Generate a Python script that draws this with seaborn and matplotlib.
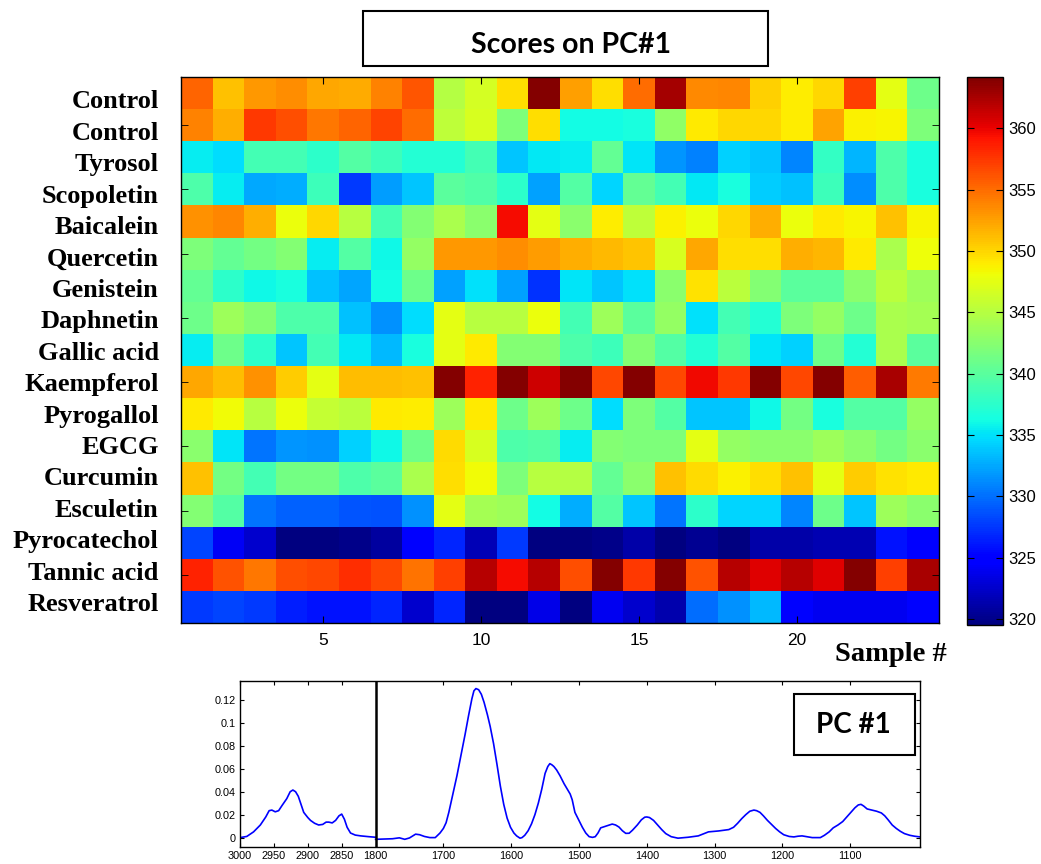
import numpy as np
import pandas as pd
import matplotlib
matplotlib.use("Agg")
import matplotlib.pyplot as plt
from matplotlib.patches import Rectangle
import seaborn as sns

# ---------------- data ----------------
compounds = ["Control", "Control", "Tyrosol", "Scopoletin", "Baicalein", "Quercetin",
             "Genistein", "Daphnetin", "Gallic acid", "Kaempferol", "Pyrogallol", "EGCG",
             "Curcumin", "Esculetin", "Pyrocatechol", "Tannic acid", "Resveratrol"]
samples = list(range(1, 25))

control1 = [355.4, 351.0, 352.9, 353.4, 352.3, 352.0, 354.0, 356.0, 344.9, 346.7, 349.7, 364.0, 352.6, 349.7, 355.0, 362.8, 353.6, 353.8, 350.3, 349.0, 350.0, 357.1, 347.5, 341.0]
control2 = [354.0, 351.9, 357.5, 356.4, 354.5, 355.4, 356.9, 355.1, 345.5, 346.8, 341.9, 349.7, 336.2, 336.2, 336.5, 343.0, 349.1, 350.0, 350.0, 349.0, 352.5, 348.8, 348.5, 342.0]
tyrosol = [335.5, 334.7, 338.8, 338.8, 337.5, 339.7, 338.4, 337.1, 337.0, 338.8, 333.8, 335.3, 335.5, 340.5, 335.1, 331.6, 330.8, 334.2, 333.8, 331.0, 338.0, 333.0, 339.3, 336.6]
scopoletin = [339.3, 335.5, 332.5, 332.7, 338.4, 327.7, 331.9, 333.8, 340.1, 339.5, 337.5, 332.1, 339.7, 334.5, 340.5, 338.8, 335.3, 336.6, 334.0, 333.6, 338.4, 331.2, 339.3, 336.6]
baicalein = [353.2, 353.8, 351.9, 347.9, 350.0, 345.0, 338.8, 342.3, 344.4, 342.7, 359.5, 347.5, 342.7, 349.0, 345.5, 348.8, 347.9, 350.0, 351.9, 347.9, 349.1, 348.5, 351.0, 348.5]
quercetin = [342.0, 340.5, 341.5, 342.3, 335.5, 339.7, 336.0, 343.2, 353.0, 353.0, 353.4, 352.7, 351.9, 351.4, 350.8, 346.8, 352.3, 349.7, 349.7, 351.9, 351.6, 349.1, 344.4, 348.1]
genistein = [340.5, 337.5, 336.0, 336.6, 333.6, 332.3, 336.2, 341.0, 332.1, 334.9, 332.1, 327.3, 335.1, 333.8, 334.9, 342.7, 349.4, 345.3, 342.3, 340.1, 340.1, 342.7, 345.3, 343.6]
daphnetin = [341.0, 343.6, 342.3, 339.3, 339.3, 333.6, 331.4, 334.7, 347.6, 345.0, 345.0, 347.9, 338.8, 343.6, 340.1, 343.2, 334.9, 338.8, 337.0, 342.0, 343.2, 341.0, 344.4, 344.0]
gallic_acid = [335.5, 341.0, 337.5, 333.8, 338.8, 335.3, 333.2, 336.6, 347.6, 349.1, 342.3, 342.3, 339.3, 338.4, 342.3, 339.7, 337.0, 339.7, 335.1, 334.2, 341.0, 337.0, 344.4, 340.1]
kaempferol = [352.3, 351.2, 353.2, 350.5, 347.6, 351.2, 351.2, 351.0, 364.0, 358.5, 364.0, 361.1, 364.0, 356.7, 364.0, 356.7, 359.8, 357.5, 364.0, 356.7, 364.0, 355.8, 362.6, 354.3]
pyrogallol = [349.1, 348.3, 345.0, 347.9, 345.8, 345.3, 349.1, 349.0, 343.6, 349.1, 341.0, 343.6, 341.0, 334.7, 342.0, 339.7, 333.8, 333.8, 336.0, 341.5, 336.6, 339.7, 339.7, 343.2]
egcg = [342.7, 335.1, 330.3, 331.6, 331.4, 334.2, 336.0, 341.0, 349.8, 346.8, 339.3, 339.7, 335.5, 342.3, 342.0, 342.0, 347.5, 343.2, 342.7, 342.7, 343.6, 342.7, 341.5, 342.7]
curcumin = [351.0, 341.5, 338.8, 341.5, 341.5, 339.3, 340.1, 344.4, 349.7, 348.3, 342.0, 345.0, 344.9, 340.5, 342.7, 351.0, 349.8, 348.8, 349.7, 351.0, 347.5, 350.5, 349.4, 349.1]
esculetin = [342.3, 339.7, 330.3, 329.4, 329.4, 328.8, 328.6, 331.4, 347.5, 344.0, 343.6, 336.2, 332.7, 339.7, 333.8, 330.3, 337.5, 334.5, 334.5, 331.0, 341.0, 333.8, 343.6, 342.7]
pyrocatechol = [328.1, 324.2, 322.6, 319.5, 319.5, 320.0, 320.8, 324.4, 326.8, 321.7, 327.7, 319.5, 319.5, 319.9, 321.2, 319.5, 320.3, 319.5, 321.2, 321.2, 321.5, 321.5, 325.9, 324.8]
tannic_acid = [358.5, 356.2, 354.5, 356.4, 356.7, 358.0, 356.7, 354.7, 357.1, 362.0, 359.5, 362.0, 356.4, 364.0, 357.5, 364.0, 356.2, 362.0, 360.5, 362.0, 360.5, 364.0, 357.1, 362.6]
resveratrol = [327.7, 328.1, 327.7, 326.4, 325.9, 325.9, 326.8, 322.6, 326.8, 319.5, 319.5, 323.6, 319.5, 324.0, 322.6, 321.3, 329.9, 331.4, 333.2, 325.1, 324.0, 324.0, 324.0, 325.1]

cbar_ticks = [320, 325, 330, 335, 340, 345, 350, 355, 360]
x_tick_samples = [5, 10, 15, 20]

# PC#1 loading spectrum, C-H stretch region (3000-2800 cm-1)
ch_wn = [3000, 2990, 2980, 2970, 2962, 2957, 2953, 2948, 2943, 2938, 2931, 2926, 2922, 2918,
         2914, 2910, 2906, 2900, 2896, 2890, 2884, 2878, 2873, 2869, 2864, 2859, 2854, 2850,
         2846, 2842, 2837, 2830, 2822, 2810, 2800]
ch_val = [0.000, 0.001, 0.005, 0.011, 0.018, 0.0235, 0.024, 0.0225, 0.0235, 0.028, 0.034, 0.040, 0.0415, 0.040,
          0.036, 0.029, 0.022, 0.0175, 0.015, 0.0125, 0.011, 0.0115, 0.0135, 0.0135, 0.0128, 0.015, 0.019, 0.0205,
          0.016, 0.009, 0.004, 0.0022, 0.0015, 0.0008, 0.0003]
# fingerprint region (1800-997 cm-1)
fp_wn = [1800, 1785, 1775, 1765, 1757, 1750, 1741, 1735, 1728, 1720, 1712, 1705, 1700, 1696,
         1692, 1686, 1680, 1674, 1668, 1663, 1658, 1655, 1652, 1648, 1644, 1640, 1635, 1631,
         1626, 1621, 1616, 1611, 1606, 1601, 1596, 1592, 1587, 1584, 1580, 1575, 1570, 1565,
         1560, 1555, 1550, 1546, 1543, 1540, 1537, 1533, 1528, 1522, 1517, 1513, 1510, 1506,
         1500, 1495, 1490, 1485, 1480, 1476, 1472, 1468, 1463, 1458, 1451, 1446, 1441, 1436,
         1431, 1426, 1421, 1414, 1408, 1403, 1400, 1396, 1390, 1384, 1378, 1372, 1364, 1354,
         1339, 1324, 1309, 1294, 1279, 1272, 1266, 1260, 1254, 1248, 1242, 1238, 1233, 1228,
         1222, 1216, 1210, 1204, 1198, 1190, 1183, 1177, 1171, 1164, 1156, 1144, 1138, 1131,
         1125, 1118, 1111, 1105, 1099, 1093, 1088, 1084, 1080, 1075, 1068, 1061, 1054, 1049,
         1044, 1038, 1032, 1026, 1020, 1012, 1005, 997]
fp_val = [-0.0015, -0.0012, -0.001, -0.0002, -0.0015, -0.0003, 0.003, 0.0025, 0.001, 0.000, 0.000, 0.004, 0.008, 0.013,
          0.022, 0.038, 0.054, 0.072, 0.090, 0.106, 0.121, 0.128, 0.130, 0.129, 0.125, 0.118, 0.107, 0.097,
          0.082, 0.064, 0.045, 0.029, 0.017, 0.009, 0.004, 0.0015, -0.0005, 0.000, 0.002, 0.006, 0.012, 0.020,
          0.030, 0.042, 0.056, 0.062, 0.0645, 0.0635, 0.062, 0.059, 0.054, 0.047, 0.042, 0.038, 0.033, 0.022,
          0.015, 0.009, 0.004, 0.0008, 0.0002, 0.0008, 0.004, 0.0085, 0.0095, 0.0105, 0.0118, 0.011, 0.0092, 0.006,
          0.0037, 0.0038, 0.0065, 0.011, 0.0155, 0.0178, 0.018, 0.0175, 0.015, 0.011, 0.007, 0.0035, 0.0008, -0.0005,
          0.0003, 0.0015, 0.005, 0.0058, 0.007, 0.009, 0.0125, 0.0165, 0.020, 0.023, 0.024, 0.0235, 0.022, 0.019,
          0.015, 0.0115, 0.008, 0.005, 0.0025, 0.001, 0.0006, 0.0012, 0.0015, 0.0008, 0.000, 0.000, 0.002, 0.005,
          0.0085, 0.011, 0.014, 0.018, 0.022, 0.026, 0.0285, 0.029, 0.0275, 0.025, 0.024, 0.023, 0.0215, 0.019,
          0.0155, 0.011, 0.008, 0.0055, 0.0035, 0.002, 0.0012, 0.0006]
spec_ticks_ch = [3000, 2950, 2900, 2850]
spec_ticks_fp = [1800, 1700, 1600, 1500, 1400, 1300, 1200, 1100]
spec_yticks = [0, 0.02, 0.04, 0.06, 0.08, 0.1, 0.12]

# ---------------- figure ----------------
W, H = 1041, 864
fig = plt.figure(figsize=(W / 100, H / 100), dpi=100)
fig.patch.set_facecolor("white")

def fx(px):
    return px / W

def fy(py):
    return 1 - py / H

sans = ["Liberation Sans", "DejaVu Sans"]
serif = ["Liberation Serif", "DejaVu Serif"]
calib = ["Lato", "DejaVu Sans"]

ax = fig.add_axes([fx(181), fy(623), fx(939) - fx(181), fy(77) - fy(623)])
cax = fig.add_axes([fx(967), fy(625), fx(1003) - fx(967), fy(77) - fy(625)])

rows = [control1, control2, tyrosol, scopoletin, baicalein, quercetin, genistein, daphnetin,
        gallic_acid, kaempferol, pyrogallol, egcg, curcumin, esculetin, pyrocatechol,
        tannic_acid, resveratrol]
df = pd.DataFrame(rows, index=compounds, columns=samples)

sns.heatmap(df, cmap="jet", vmin=319.5, vmax=364.2, ax=ax, cbar_ax=cax,
            xticklabels=False, yticklabels=False, linewidths=0)

for s in ax.spines.values():
    s.set_visible(True)
    s.set_color("black")
    s.set_linewidth(1.0)

ax.set_xticks([s - 0.5 for s in x_tick_samples])
ax.set_xticklabels([str(s) for s in x_tick_samples], fontsize=12.5, family=sans)
ax.tick_params(axis="x", direction="in", top=True, bottom=True, length=5, pad=7, rotation=0)

# row labels are spaced a little tighter than the rows in the original figure
n = len(compounds)
label_pos = 0.769 + np.arange(n) * 0.9788
ax.set_yticks(label_pos)
ax.set_yticklabels(compounds, fontsize=19, fontweight="bold", family=serif, rotation=0, va="center")
ax.tick_params(axis="y", which="major", length=0, pad=16)
ax.set_yticks(np.arange(1, n, 2) + 0.5, minor=True)
ax.tick_params(axis="y", which="minor", direction="in", left=True, right=True, length=5)
ax.set_ylim(n, 0)
ax.set_xlabel("")
ax.set_ylabel("")

fig.text(fx(947), fy(661), "Sample #", ha="right", va="baseline", fontsize=20.5,
         fontweight="bold", family=serif)

cbar = ax.collections[0].colorbar
cbar.set_ticks(cbar_ticks)
cbar.set_ticklabels([str(t) for t in cbar_ticks])
cax.tick_params(direction="in", left=True, right=True, length=5, labelsize=12, pad=4)
for lab in cax.get_yticklabels():
    lab.set_family(sans)
cbar.outline.set_edgecolor("black")
cbar.outline.set_linewidth(1.0)

# title box
fig.add_artist(Rectangle((fx(363), fy(66)), fx(768) - fx(363), fy(11) - fy(66),
                         transform=fig.transFigure, fill=False, ec="black", lw=1.5))
fig.text(fx(571), fy(53), "Scores on PC#1", ha="center", va="baseline", fontsize=20.5,
         fontweight="bold", family=calib)

# ---------------- loading spectrum ----------------
bx = fig.add_axes([fx(240), fy(847), fx(920) - fx(240), fy(681) - fy(847)])
u_ch = [3000 - w for w in ch_wn]
u_fp = [200 + 1800 - w for w in fp_wn]
sns.lineplot(x=u_ch, y=ch_val, ax=bx, color="blue", lw=1.2, sort=False, estimator=None)
sns.lineplot(x=u_fp, y=fp_val, ax=bx, color="blue", lw=1.2, sort=False, estimator=None)
bx.axvline(200, color="black", lw=1.8)
bx.set_xlim(0, 1003)
bx.set_ylim(-0.0082, 0.1366)
xt = [3000 - w for w in spec_ticks_ch] + [200 + 1800 - w for w in spec_ticks_fp]
bx.set_xticks(xt)
bx.set_xticklabels([str(w) for w in spec_ticks_ch + spec_ticks_fp], fontsize=7.8, family=sans)
bx.set_yticks(spec_yticks)
bx.set_yticklabels(["0", "0.02", "0.04", "0.06", "0.08", "0.1", "0.12"], fontsize=7.8, family=sans)
bx.tick_params(direction="in", top=True, right=True, length=3, pad=3)
for s in bx.spines.values():
    s.set_color("black")
    s.set_linewidth(1.0)

fig.add_artist(Rectangle((fx(794), fy(755)), fx(915) - fx(794), fy(694) - fy(755),
                         transform=fig.transFigure, fill=False, ec="black", lw=1.5))
fig.text(fx(853), fy(725), "PC #1", ha="center", va="center", fontsize=20,
         fontweight="bold", family=calib)

fig.savefig("out.png", dpi=100, facecolor="white")
